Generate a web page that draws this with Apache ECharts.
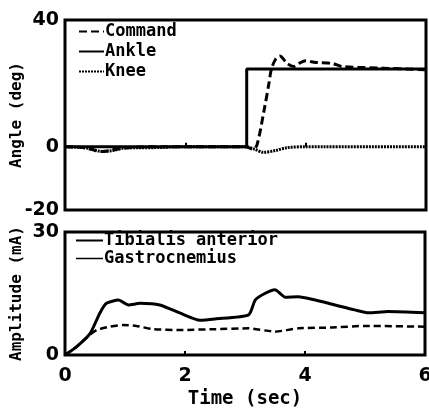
<!DOCTYPE html>
<html><head><meta charset="utf-8">
<script src="https://cdn.jsdelivr.net/npm/echarts@6/dist/echarts.min.js"></script>
<style>html,body{margin:0;padding:0;background:#fff}#c{width:429px;height:409px}</style>
</head><body><div id="c"></div>
<script>
// Top panel: Angle (deg)
var commandT = [0, 0.3, 0.5, 0.65, 0.8, 1.0, 1.5, 2.0, 2.5, 3.0, 3.12, 3.19, 3.31, 3.39, 3.43, 3.5, 3.57, 3.69, 3.8, 3.89, 4.0, 4.17, 4.44, 4.61, 5.28, 6.0];
var commandV = [0, -0.3, -1.2, -1.5, -1.0, -0.4, 0, 0, 0, 0, -0.8, 0.5, 11.6, 20, 24.5, 27.6, 28.6, 26.3, 25.3, 26.3, 27.1, 26.6, 26.3, 25.3, 24.8, 24.3];
var ankleT = [0, 3.02, 3.02, 6.0];
var ankleV = [0, 0, 24.5, 24.5];
var kneeT = [0, 0.4, 0.6, 0.8, 1.0, 1.5, 2.0, 3.0, 3.15, 3.3, 3.5, 3.7, 4.0, 6.0];
var kneeV = [0, -0.5, -1.5, -1.2, -0.4, -0.3, 0, 0, -0.8, -1.8, -1.2, -0.3, 0, 0];
// Bottom panel: Amplitude (mA)
var tibT = [0, 0.19, 0.42, 0.58, 0.69, 0.89, 1.06, 1.25, 1.58, 1.92, 2.25, 2.5, 3.06, 3.17, 3.33, 3.5, 3.67, 3.89, 4.17, 4.5, 4.83, 5.06, 5.39, 6.0];
var tibV = [0, 2.0, 5.3, 10.2, 12.6, 13.4, 12.2, 12.6, 12.2, 10.2, 8.5, 8.8, 9.8, 13.4, 15.0, 15.9, 14.1, 14.2, 13.4, 12.2, 11.0, 10.3, 10.6, 10.3];
var gasT = [0, 0.19, 0.42, 0.53, 0.75, 0.97, 1.19, 1.47, 1.92, 2.5, 3.06, 3.5, 3.89, 4.44, 5.0, 6.0];
var gasV = [0, 2.0, 5.0, 6.1, 6.9, 7.3, 7.1, 6.3, 6.1, 6.3, 6.5, 5.7, 6.5, 6.7, 7.1, 6.9];
var xTicks = [0, 2, 4, 6];
var angleTicks = [-20, 0, 40];
var ampTicks = [0, 30];

function pairs(t, v) { return t.map(function (x, i) { return [x, v[i]]; }); }

var tickFont = { fontFamily: 'DejaVu Sans', fontWeight: 'bold', fontSize: 19, color: '#000' };
var mono = 'DejaVu Sans Mono';
var chart = echarts.init(document.getElementById('c'), null, { renderer: 'canvas' });
function xAxisCfg(idx, showLabels) {
  return {
    type: 'value', gridIndex: idx, min: 0, max: 6, interval: 2,
    axisLine: { show: false },
    axisTick: { show: true, inside: true, length: 4, lineStyle: { color: '#000', width: 2 } },
    splitLine: { show: false },
    axisLabel: showLabels ? Object.assign({ margin: 12, formatter: function (v) { return xTicks.indexOf(v) >= 0 ? String(v) : ''; } }, tickFont) : { show: false },
    name: showLabels ? 'Time (sec)' : '', nameLocation: 'middle', nameGap: 35, nameMoveOverlap: false,
    nameTextStyle: { fontFamily: mono, fontWeight: 'bold', fontSize: 19, color: '#000' }
  };
}
var legendText = { fontFamily: mono, fontWeight: 'bold', fontSize: 17, color: '#000', padding: [0, 0, 0, -4] };
chart.setOption({
  animation: false,
  backgroundColor: '#fff',
  grid: [
    { left: 65, right: 3, top: 20, height: 190, containLabel: false, outerBoundsMode: 'none', show: true, borderColor: '#000', borderWidth: 3, backgroundColor: 'transparent' },
    { left: 65, right: 4, top: 232, height: 123, containLabel: false, outerBoundsMode: 'none', show: true, borderColor: '#000', borderWidth: 3, backgroundColor: 'transparent' }
  ],
  legend: [
    { data: ['Command', 'Ankle', 'Knee'], orient: 'vertical', left: 73, top: 18, itemWidth: 25, itemHeight: 14, itemGap: 3,
      itemStyle: { opacity: 0 }, textStyle: legendText },
    { data: ['Tibialis anterior', { name: 'Gastrocnemius', lineStyle: { type: 'solid', width: 1.5 } }], orient: 'vertical', left: 70, top: 227, itemWidth: 27, itemHeight: 14, itemGap: 1,
      itemStyle: { opacity: 0 }, textStyle: legendText }
  ],
  xAxis: [xAxisCfg(0, false), xAxisCfg(1, true)],
  yAxis: [
    { type: 'value', gridIndex: 0, min: -20, max: 40, interval: 20,
      axisLine: { show: false }, axisTick: { show: false }, splitLine: { show: false },
      axisLabel: Object.assign({ margin: 6, formatter: function (v) { return angleTicks.indexOf(v) >= 0 ? String(v) : ''; } }, tickFont),
      name: 'Angle (deg)', nameLocation: 'middle', nameGap: 40, nameMoveOverlap: false,
      nameTextStyle: { fontFamily: mono, fontWeight: 'bold', fontSize: 16, color: '#000' } },
    { type: 'value', gridIndex: 1, min: 0, max: 30, interval: 30,
      axisLine: { show: false }, axisTick: { show: false }, splitLine: { show: false },
      axisLabel: Object.assign({ margin: 6, formatter: function (v) { return ampTicks.indexOf(v) >= 0 ? String(v) : ''; } }, tickFont),
      name: 'Amplitude (mA)', nameLocation: 'middle', nameGap: 40, nameMoveOverlap: false,
      nameTextStyle: { fontFamily: mono, fontWeight: 'bold', fontSize: 16, color: '#000' } }
  ],
  series: [
    { name: 'Knee', type: 'line', xAxisIndex: 0, yAxisIndex: 0, symbol: 'none', smooth: 0.3,
      data: pairs(kneeT, kneeV), lineStyle: { color: '#000', width: 3, type: [2, 1] }, itemStyle: { color: '#000' } },
    { name: 'Command', type: 'line', xAxisIndex: 0, yAxisIndex: 0, symbol: 'none', smooth: 0.3,
      data: pairs(commandT, commandV), lineStyle: { color: '#000', width: 3, type: [8, 4] }, itemStyle: { color: '#000' } },
    { name: 'Ankle', type: 'line', xAxisIndex: 0, yAxisIndex: 0, symbol: 'none',
      data: pairs(ankleT, ankleV), lineStyle: { color: '#000', width: 3 }, itemStyle: { color: '#000' } },
    { name: 'Tibialis anterior', type: 'line', xAxisIndex: 1, yAxisIndex: 1, symbol: 'none', smooth: 0.2,
      data: pairs(tibT, tibV), lineStyle: { color: '#000', width: 3 }, itemStyle: { color: '#000' } },
    { name: 'Gastrocnemius', type: 'line', xAxisIndex: 1, yAxisIndex: 1, symbol: 'none', smooth: 0.2,
      data: pairs(gasT, gasV), lineStyle: { color: '#000', width: 2.5, type: [7, 4] }, itemStyle: { color: '#000' } }
  ]
});
</script></body></html>
